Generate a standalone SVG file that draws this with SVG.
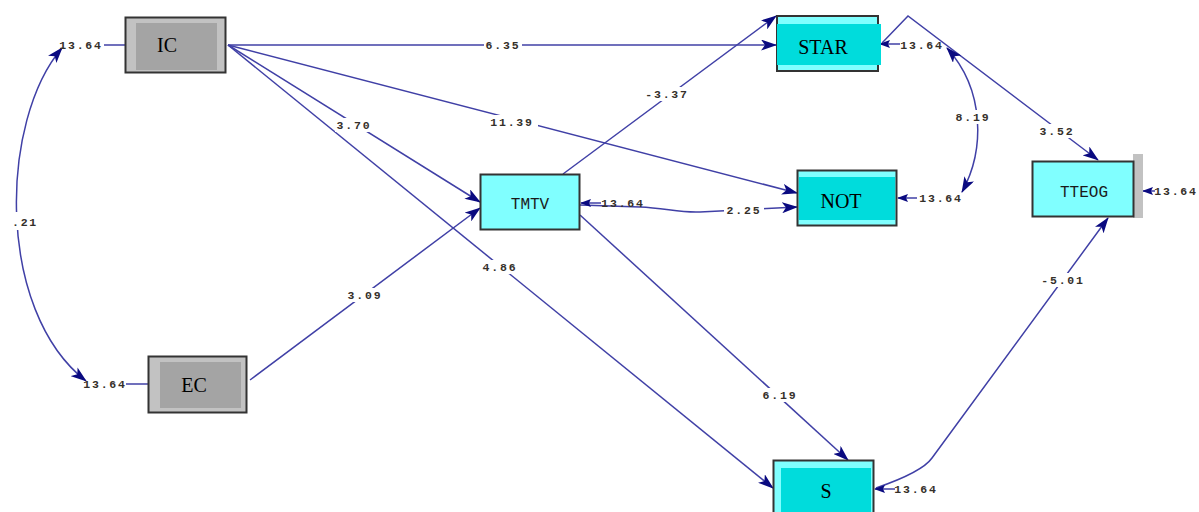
<svg xmlns="http://www.w3.org/2000/svg" width="1199" height="512" viewBox="0 0 1199 512">
  <style>
    .bg { fill: #ffffff; }
    .edge { fill: none; stroke: #4040a6; stroke-width: 1.5; }
    .mask { fill: #ffffff; }
    .lbl { font-family: "Liberation Mono", "Courier New", monospace; font-size: 11.5px; font-weight: bold; letter-spacing: 1.8px; fill: #35302a; text-anchor: middle; dominant-baseline: central; }
    .grayOuter { fill: #c2c2c2; stroke: #333333; stroke-width: 2; }
    .grayInner { fill: #a4a4a4; }
    .cyanOuter { fill: #80ffff; stroke: #333333; stroke-width: 2; }
    .cyanInner { fill: #00dcdc; }
    .serif { font-family: "Liberation Serif", "Times New Roman", serif; font-size: 20px; fill: #000000; text-anchor: middle; }
    .mono { font-family: "Liberation Mono", "Courier New", monospace; font-size: 16px; fill: #1a1a1a; text-anchor: middle; }
  </style>
  <defs>
    <marker id="arr" viewBox="0 0 16 11" refX="15" refY="5.5" markerWidth="16" markerHeight="11" markerUnits="userSpaceOnUse" orient="auto-start-reverse">
      <path d="M0,0 L16,5.5 L0,11 L4,5.5 z" fill="#0a0a80"/>
    </marker>
    <marker id="arrs" viewBox="0 0 11 8" refX="10" refY="4" markerWidth="11" markerHeight="8" markerUnits="userSpaceOnUse" orient="auto">
      <path d="M0,0 L11,4 L0,8 L2,4 z" fill="#0a0a80"/>
    </marker>
  </defs>

  <rect class="bg" x="0" y="0" width="1199" height="512"/>

  <!-- paths, covariances and error terms -->
  <g id="connectors">
    <path class="edge" d="M228,45 L776,45" marker-end="url(#arr)"/>
    <path class="edge" d="M228,45 L797,193" marker-end="url(#arr)"/>
    <path class="edge" d="M228,45 L480,202" marker-end="url(#arr)"/>
    <path class="edge" d="M228,45 L773,488" marker-end="url(#arr)"/>
    <path class="edge" d="M250,380 L480,208" marker-end="url(#arr)"/>
    <path class="edge" d="M563,174 L776,16" marker-end="url(#arr)"/>
    <path class="edge" d="M580,205 L640,207 C665,208 680,213 700,212 L797,207" marker-end="url(#arr)"/>
    <path class="edge" d="M580,215 L848,460" marker-end="url(#arr)"/>
    <path class="edge" d="M876,488 C905,478 925,468 932,458 L1108,218" marker-end="url(#arr)"/>
    <path class="edge" d="M882,43 L908,16 L1098,160" marker-end="url(#arr)"/>
    <path class="edge" d="M62,48 C0,120 -5,310 86,381" marker-start="url(#arr)" marker-end="url(#arr)"/>
    <path class="edge" d="M947,48 C985,90 985,150 962,192" marker-start="url(#arr)" marker-end="url(#arr)"/>

    <!-- error terms -->
    <path class="edge" d="M104,45 L125,45"/>
    <path class="edge" d="M126,384 L148,384"/>
    <path class="edge" d="M601,203 L581,203" marker-end="url(#arrs)"/>
    <path class="edge" d="M900,44 L880,44" marker-end="url(#arrs)"/>
    <path class="edge" d="M917,198 L898,198" marker-end="url(#arrs)"/>
    <path class="edge" d="M1155,191 L1143,191" marker-end="url(#arrs)"/>
    <path class="edge" d="M895,489 L875,489" marker-end="url(#arrs)"/>

    <!-- coefficient labels -->
    <rect class="mask" x="484" y="38" width="38" height="14"/>
    <text class="lbl" x="503" y="45">6.35</text>
    <rect class="mask" x="486" y="115" width="52" height="14"/>
    <text class="lbl" x="512" y="122">11.39</text>
    <rect class="mask" x="335" y="118" width="38" height="14"/>
    <text class="lbl" x="354" y="125">3.70</text>
    <rect class="mask" x="481" y="260" width="38" height="14"/>
    <text class="lbl" x="500" y="267">4.86</text>
    <rect class="mask" x="346" y="288" width="38" height="14"/>
    <text class="lbl" x="365" y="295">3.09</text>
    <rect class="mask" x="643" y="87" width="48" height="14"/>
    <text class="lbl" x="667" y="94">-3.37</text>
    <rect class="mask" x="724" y="203" width="40" height="14"/>
    <text class="lbl" x="744" y="210">2.25</text>
    <rect class="mask" x="761" y="388" width="38" height="14"/>
    <text class="lbl" x="780" y="395">6.19</text>
    <rect class="mask" x="1039" y="273" width="48" height="14"/>
    <text class="lbl" x="1063" y="280">-5.01</text>
    <rect class="mask" x="1038" y="124" width="38" height="14"/>
    <text class="lbl" x="1057" y="131">3.52</text>
    <rect class="mask" x="954" y="110" width="38" height="14"/>
    <text class="lbl" x="973" y="117">8.19</text>
    <rect class="mask" x="8" y="212" width="30" height="18"/>
    <text class="lbl" x="25" y="222">.21</text>

    <!-- error variance labels -->
    <text class="lbl" x="81" y="45">13.64</text>
    <text class="lbl" x="105" y="384">13.64</text>
    <text class="lbl" x="623" y="203">13.64</text>
    <text class="lbl" x="922" y="45">13.64</text>
    <text class="lbl" x="941" y="198">13.64</text>
    <text class="lbl" x="1176" y="191">13.64</text>
    <text class="lbl" x="916" y="489">13.64</text>
  </g>

  <g id="IC">
    <rect class="grayOuter" x="125.5" y="17.5" width="100" height="55"/>
    <rect class="grayInner" x="136" y="23" width="81" height="47"/>
    <text class="serif" x="167" y="52">IC</text>
  </g>

  <g id="EC">
    <rect class="grayOuter" x="148.5" y="356.5" width="98" height="56"/>
    <rect class="grayInner" x="160" y="362" width="81" height="46"/>
    <text class="serif" x="194" y="392">EC</text>
  </g>

  <g id="TMTV">
    <rect class="cyanOuter" x="480.5" y="174.5" width="99" height="55"/>
    <text class="mono" x="530" y="209">TMTV</text>
  </g>

  <g id="STAR">
    <rect class="cyanOuter" x="777" y="16" width="101" height="55"/>
    <rect class="cyanInner" x="777" y="24" width="104" height="41"/>
    <text class="serif" x="823" y="54">STAR</text>
  </g>

  <g id="NOT">
    <rect class="cyanOuter" x="797.5" y="170.5" width="99" height="55"/>
    <rect class="cyanInner" x="799" y="177" width="96" height="43"/>
    <text class="serif" x="841" y="208">NOT</text>
  </g>

  <g id="TTEOG">
    <rect x="1133" y="154" width="10" height="64" fill="#c2c2c2"/>
    <rect class="cyanOuter" x="1032.5" y="161.5" width="101" height="55"/>
    <text class="mono" x="1084" y="197">TTEOG</text>
  </g>

  <g id="S">
    <rect class="cyanOuter" x="773.5" y="460.5" width="100" height="56"/>
    <rect class="cyanInner" x="781" y="468" width="90" height="44"/>
    <text class="serif" x="826" y="498">S</text>
  </g>
</svg>
